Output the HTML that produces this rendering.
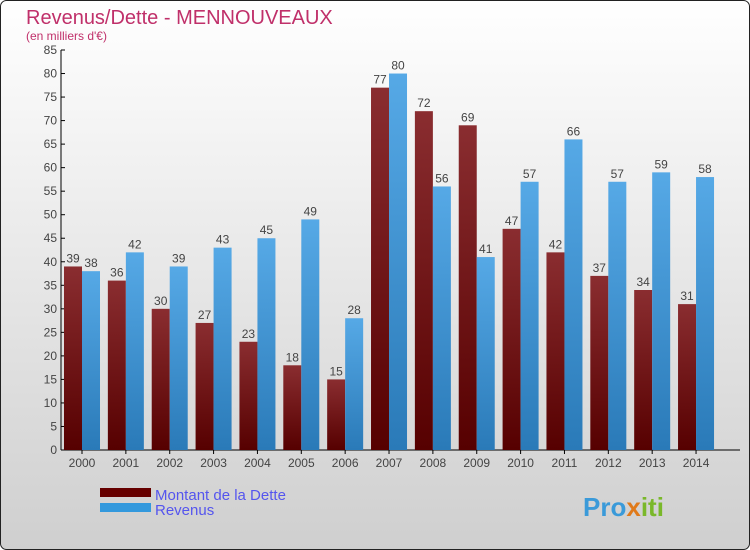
<!DOCTYPE html>
<html><head><meta charset="utf-8"><style>
body{margin:0}
#wrap{width:750px;height:550px;position:relative;overflow:hidden}
svg text{font-family:"Liberation Sans",sans-serif}
</style></head><body>
<div id="wrap">
<svg id="c" width="750" height="550" xmlns="http://www.w3.org/2000/svg">
<defs>
<linearGradient id="bg" x1="0" y1="0" x2="0" y2="1"><stop offset="0" stop-color="#ffffff"/><stop offset="1" stop-color="#cfcfcf"/></linearGradient>
<linearGradient id="gd" x1="0" y1="0" x2="0" y2="1"><stop offset="0" stop-color="#8a2d30"/><stop offset="1" stop-color="#560000"/></linearGradient>
<linearGradient id="gr" x1="0" y1="0" x2="0" y2="1"><stop offset="0" stop-color="#56a9e6"/><stop offset="1" stop-color="#2a7ab8"/></linearGradient>
</defs>
<rect x="0.5" y="0.5" width="749" height="549" rx="6" fill="url(#bg)" stroke="#222"/>
<text x="26" y="24" font-size="20" fill="#c0306a">Revenus/Dette - MENNOUVEAUX</text>
<text x="26" y="40" font-size="12" fill="#c0306a">(en milliers d'€)</text>
<g id="axes"></g><g id="bars"></g>
<rect x="100" y="488" width="51" height="9" fill="#660000"/>
<rect x="100" y="503" width="51" height="9" fill="#3399dd"/>
<text x="155" y="500" font-size="15" fill="#5555ee">Montant de la Dette</text>
<text x="155" y="515" font-size="15" fill="#5555ee">Revenus</text>
<text x="583" y="516" font-size="26" font-weight="bold" fill="#3a9ad9">Pro<tspan fill="#e07a1a">x</tspan><tspan fill="#7ab82a">iti</tspan></text>
</svg></div>
<script>
const years=["2000","2001","2002","2003","2004","2005","2006","2007","2008","2009","2010","2011","2012","2013","2014"];
const dette=[39,36,30,27,23,18,15,77,72,69,47,42,37,34,31];
const revenus=[38,42,39,43,45,49,28,80,56,41,57,66,57,59,58];
const yTicks=[0,5,10,15,20,25,30,35,40,45,50,55,60,65,70,75,80,85];
const NS="http://www.w3.org/2000/svg";
const y=v=>450-v*400/85;
const xc=i=>82+i*43.86;
function mk(t,a,p){const e=document.createElementNS(NS,t);for(const k in a)e.setAttribute(k,a[k]);p.appendChild(e);return e;}
const ax=document.getElementById('axes'),bg=document.getElementById('bars');
const yl=mk('line',{x1:61,y1:50,x2:61,y2:450,stroke:'#000'},ax);


const xl=mk('line',{x1:61,y1:450,x2:740,y2:450,stroke:'#000'},ax);


yTicks.forEach(v=>{mk('line',{x1:61,y1:y(v),x2:65,y2:y(v),stroke:'#000'},ax);
const t=mk('text',{x:57,y:y(v)+4,'font-size':12,fill:'#444','text-anchor':'end'},ax);t.textContent=v;

});
years.forEach((yr,i)=>{
 const c=xc(i);
 mk('line',{x1:c,y1:450,x2:c,y2:454,stroke:'#000'},ax);
 const t=mk('text',{x:c,y:467,'font-size':12,fill:'#444','text-anchor':'middle'},ax);t.textContent=yr;
 
 
 const b1=mk('rect',{x:c-18,y:y(dette[i]),width:18,height:450-y(dette[i]),fill:'url(#gd)'},bg);
 
 
 const b2=mk('rect',{x:c,y:y(revenus[i]),width:18,height:450-y(revenus[i]),fill:'url(#gr)'},bg);
 
 
 const l1=mk('text',{x:c-9,y:y(dette[i])-4,'font-size':12,fill:'#444','text-anchor':'middle'},bg);l1.textContent=dette[i];
 
 
 const l2=mk('text',{x:c+9,y:y(revenus[i])-4,'font-size':12,fill:'#444','text-anchor':'middle'},bg);l2.textContent=revenus[i];
 
 
});
</script>
</body></html>
